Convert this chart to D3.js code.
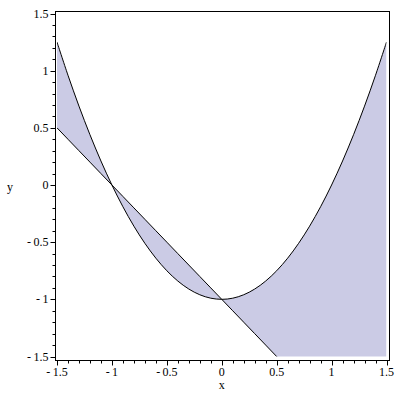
<!DOCTYPE html>
<html>
<head>
<meta charset="utf-8">
<script src="https://cdn.jsdelivr.net/npm/d3@7"></script>
<style>
html,body{margin:0;padding:0;background:#fff;}
svg{display:block;}
text{font-family:"Liberation Serif","Times New Roman",serif;font-size:12px;fill:#000;}
</style>
</head>
<body>
<svg id="chart" width="400" height="400"></svg>
<script>
// data
const xValues = [-1.5,-1.4,-1.3,-1.2,-1.1,-1.0,-0.9,-0.8,-0.7,-0.6,-0.5,-0.4,-0.3,-0.2,-0.1,0,0.1,0.2,0.3,0.4,0.5,0.6,0.7,0.8,0.9,1.0,1.1,1.2,1.3,1.4,1.5];
const curveValues = [1.25,0.96,0.69,0.44,0.21,0,-0.19,-0.36,-0.51,-0.64,-0.75,-0.84,-0.91,-0.96,-0.99,-1,-0.99,-0.96,-0.91,-0.84,-0.75,-0.64,-0.51,-0.36,-0.19,0,0.21,0.44,0.69,0.96,1.25];
const lineValues = [0.5,0.4,0.3,0.2,0.1,0,-0.1,-0.2,-0.3,-0.4,-0.5,-0.6,-0.7,-0.8,-0.9,-1,-1.1,-1.2,-1.3,-1.4,-1.5,-1.6,-1.7,-1.8,-1.9,-2.0,-2.1,-2.2,-2.3,-2.4,-2.5];
const xTickLabels = [-1.5,-1,-0.5,0,0.5,1,1.5];
const yTickLabels = [-1.5,-1,-0.5,0,0.5,1,1.5];
const minorTicks = d3.range(-15,16).map(d => d/10);

const svg = d3.select("#chart");
const x = d3.scaleLinear().domain([-1.5,1.5]).range([57,386.5]);
const y = d3.scaleLinear().domain([-1.5,1.5]).range([356.5,13.5]);

const frame = {l:55.5, r:389.5, t:11.5, b:360.5};

const data = xValues.map((v,i)=>({x:v, c:curveValues[i], l:lineValues[i]}));

svg.append("defs").append("clipPath").attr("id","clip")
  .append("rect")
  .attr("x", x(-1.5)).attr("y", y(1.5))
  .attr("width", x(1.5)-x(-1.5)).attr("height", y(-1.5)-y(1.5));

const g = svg.append("g").attr("clip-path","url(#clip)");

const curve = d3.curveCatmullRom.alpha(0.5);
g.append("path").datum(data)
  .attr("fill","#cbcbe5")
  .attr("d", d3.area().curve(curve).x(d=>x(d.x)).y0(d=>y(d.l)).y1(d=>y(d.c)));

g.append("path").datum(data)
  .attr("fill","none").attr("stroke","#000").attr("stroke-width",1)
  .attr("d", d3.line().curve(curve).x(d=>x(d.x)).y(d=>y(d.c)));

g.append("path").datum(data)
  .attr("fill","none").attr("stroke","#000").attr("stroke-width",1)
  .attr("d", d3.line().x(d=>x(d.x)).y(d=>y(d.l)));

// frame
svg.append("rect")
  .attr("x",frame.l).attr("y",frame.t)
  .attr("width",frame.r-frame.l).attr("height",frame.b-frame.t)
  .attr("fill","none").attr("stroke","#000").attr("stroke-width",1);

const isMajor = v => Math.abs(v*2 - Math.round(v*2)) < 1e-6;

// x ticks
svg.append("g").selectAll("line").data(minorTicks).join("line")
  .attr("x1", d=>Math.round(x(d))+0.5).attr("x2", d=>Math.round(x(d))+0.5)
  .attr("y1", frame.b).attr("y2", d=> frame.b + (isMajor(d)?5:3))
  .attr("stroke","#000");
// y ticks
svg.append("g").selectAll("line").data(minorTicks).join("line")
  .attr("y1", d=>Math.round(y(d))+0.5).attr("y2", d=>Math.round(y(d))+0.5)
  .attr("x1", frame.l).attr("x2", d=> frame.l - (isMajor(d)?5:3))
  .attr("stroke","#000");

const fmt = v => (v<0 ? "-" + "\u2009" + String(Math.abs(v)) : String(v));

svg.append("g").selectAll("text").data(xTickLabels).join("text")
  .attr("x", d=>x(d)).attr("y", 375.5)
  .attr("text-anchor","middle")
  .text(fmt);

svg.append("g").selectAll("text").data(yTickLabels).join("text")
  .attr("x", 48.5).attr("y", d=>y(d)+4)
  .attr("text-anchor","end")
  .text(fmt);

svg.append("text").attr("x", x(0)).attr("y", 389).attr("text-anchor","middle").text("x");
svg.append("text").attr("x", 10).attr("y", 191).attr("text-anchor","middle").text("y");
</script>
</body>
</html>
